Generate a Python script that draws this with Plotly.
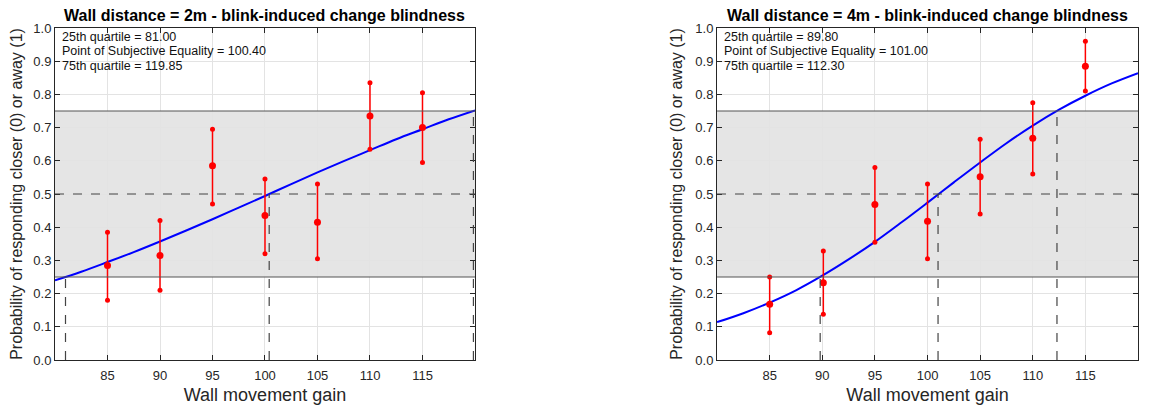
import plotly.graph_objects as go

# ---- data ----
gains = [85, 90, 95, 100, 105, 110, 115]

# 2 m wall distance
mean_2m = [0.285, 0.315, 0.585, 0.435, 0.415, 0.735, 0.700]
low_2m = [0.180, 0.210, 0.470, 0.320, 0.305, 0.635, 0.595]
high_2m = [0.385, 0.420, 0.695, 0.545, 0.530, 0.835, 0.805]

# 4 m wall distance
gains_4m = [85, 90.1, 95, 100, 105, 110, 115]
mean_4m = [0.168, 0.233, 0.468, 0.418, 0.552, 0.668, 0.885]
low_4m = [0.082, 0.138, 0.355, 0.305, 0.440, 0.560, 0.810]
high_4m = [0.250, 0.328, 0.580, 0.530, 0.665, 0.775, 0.960]

# fitted curves
curve_x = [80, 82.5, 85, 87.5, 90, 92.5, 95, 97.5, 100, 102.5, 105, 107.5, 110, 112.5, 115, 117.5, 120]
curve_2m = [0.240, 0.266, 0.295, 0.325, 0.357, 0.390, 0.424, 0.459, 0.494, 0.530, 0.565, 0.599,
            0.632, 0.665, 0.695, 0.725, 0.752]
curve_4m = [0.114, 0.141, 0.173, 0.210, 0.254, 0.303, 0.356, 0.414, 0.474, 0.535, 0.595, 0.653,
            0.706, 0.754, 0.796, 0.833, 0.864]

quart_2m = [81.00, 100.40, 119.85]
quart_4m = [89.80, 101.00, 112.30]
levels = [0.25, 0.50, 0.75]
quart_names = ["25th quartile", "Point of Subjective Equality", "75th quartile"]

titles = ["Wall distance = 2m - blink-induced change blindness",
          "Wall distance = 4m - blink-induced change blindness"]
x_ticks = [85, 90, 95, 100, 105, 110, 115]
y_ticks = [0, 0.1, 0.2, 0.3, 0.4, 0.5, 0.6, 0.7, 0.8, 0.9, 1.0]
x_label = "Wall movement gain"
y_label = "Probability of responding closer (0) or away (1)"

FONT = "Liberation Sans, Arial, Helvetica, sans-serif"
RED = "#ff0000"
BLUE = "#0000ff"
TXT = "#262626"

fig = go.Figure()

panels = [
    (gains, mean_2m, low_2m, high_2m, curve_2m, quart_2m, "x", "y"),
    (gains_4m, mean_4m, low_4m, high_4m, curve_4m, quart_4m, "x2", "y2"),
]

shapes = []
annotations = []
for i, (gx, m, lo, hi, cv, q, xa, ya) in enumerate(panels):
    xd = "x domain" if xa == "x" else "x2 domain"
    yd = "y domain" if ya == "y" else "y2 domain"
    # shaded band
    shapes.append(dict(type="rect", xref=xd, yref=ya, x0=0, x1=1, y0=levels[0], y1=levels[2],
                       fillcolor="#e5e5e5", line=dict(width=0), layer="below"))
    for lv in (levels[0], levels[2]):
        shapes.append(dict(type="line", xref=xd, yref=ya, x0=0, x1=1, y0=lv, y1=lv,
                           line=dict(color="#555555", width=1.2), layer="above"))
    shapes.append(dict(type="line", xref=xd, yref=ya, x0=0, x1=1, y0=levels[1], y1=levels[1],
                       line=dict(color="#444444", width=1.2, dash="dash"), layer="above"))
    for qv, lv in zip(q, levels):
        shapes.append(dict(type="line", xref=xa, yref=ya, x0=qv, x1=qv, y0=0, y1=lv,
                           line=dict(color="#444444", width=1.2, dash="dash"), layer="above"))

    # curve
    fig.add_trace(go.Scatter(x=curve_x, y=cv, mode="lines", line=dict(color=BLUE, width=2, shape="spline"),
                             xaxis=xa, yaxis=ya, showlegend=False, hoverinfo="skip"))
    # error bars
    ex, ey = [], []
    for xv, l, h in zip(gx, lo, hi):
        ex += [xv, xv, None]
        ey += [l, h, None]
    fig.add_trace(go.Scatter(x=ex, y=ey, mode="lines", line=dict(color=RED, width=1.5),
                             xaxis=xa, yaxis=ya, showlegend=False, hoverinfo="skip"))
    fig.add_trace(go.Scatter(x=gx + gx, y=lo + hi, mode="markers", marker=dict(color=RED, size=5),
                             xaxis=xa, yaxis=ya, showlegend=False))
    fig.add_trace(go.Scatter(x=gx, y=m, mode="markers", marker=dict(color=RED, size=7),
                             xaxis=xa, yaxis=ya, showlegend=False))

    for k, (name, qv) in enumerate(zip(quart_names, q)):
        annotations.append(dict(
            xref=xd, yref=yd, x=0.015, y=1.0, yshift=-8.5 - 14.5 * k, xanchor="left", yanchor="middle",
            showarrow=False, align="left", borderpad=0, text=f"{name} = {qv:.2f}",
            font=dict(size=12.5, color="#111111", family=FONT)))
    annotations.append(dict(
        xref=xd, yref="paper", x=0.5, y=1.0, yshift=2, xanchor="center", yanchor="bottom", showarrow=False,
        text=f"<b>{titles[i]}</b>", font=dict(size=16, color="#000000", family=FONT)))

axis_common = dict(showline=True, linecolor="#262626", linewidth=1, mirror="ticks", ticks="inside",
                   ticklen=5, tickcolor="#262626", showgrid=True, gridcolor="#e3e3e3", zeroline=False,
                   automargin=False, tickfont=dict(size=13, color=TXT, family=FONT))

xtitle = dict(text=x_label, font=dict(size=18, color=TXT, family=FONT), standoff=6)
ytitle = dict(text=y_label, font=dict(size=16, color=TXT, family=FONT), standoff=8)

# the page body adds an 8px offset, so margins are shifted to compensate
fig.update_layout(
    width=1162, height=408,
    margin=dict(l=47, r=32, t=20, b=56),
    plot_bgcolor="white", paper_bgcolor="white",
    shapes=shapes, annotations=annotations,
    xaxis=dict(domain=[0, 0.3878], range=[80, 120], tickvals=x_ticks, anchor="y", title=xtitle,
               ticklabelstandoff=3, **axis_common),
    xaxis2=dict(domain=[0.6113, 1], range=[80, 120], tickvals=x_ticks, anchor="y2", title=xtitle,
                ticklabelstandoff=3, **axis_common),
    yaxis=dict(domain=[0, 1], range=[0, 1], tickvals=y_ticks, tickformat=".1f", anchor="x",
               title=ytitle, **axis_common),
    yaxis2=dict(domain=[0, 1], range=[0, 1], tickvals=y_ticks, tickformat=".1f", anchor="x2",
                title=ytitle, **axis_common),
)

fig.write_html("out.html")
